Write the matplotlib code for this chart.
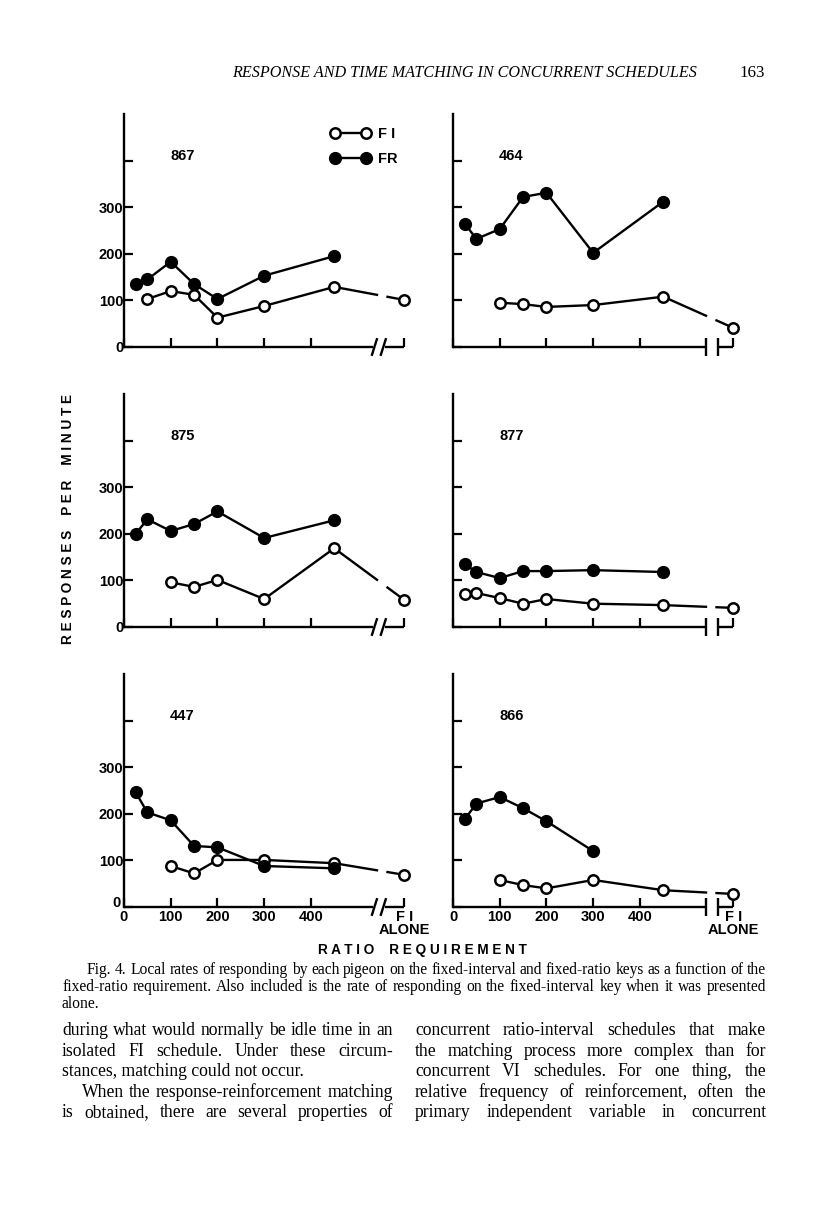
import numpy as np
import matplotlib
matplotlib.use("Agg")
import matplotlib.pyplot as plt
from matplotlib.lines import Line2D
from matplotlib.transforms import ScaledTranslation

# ratio requirements (FR) and the position used for "FI alone"
ratio = [25, 50, 100, 150, 200, 300, 450]
fi_alone_x = 600
nan = np.nan

pigeons = ["867", "464", "875", "877", "447", "866"]

fr_867 = [135, 145, 183, 135, 103, 153, 195]
fi_867 = [nan, 103, 120, 112, 63, 88, 129]
alone_867 = 101

fr_464 = [265, 232, 253, 322, 331, 202, 312]
fi_464 = [nan, nan, 95, 92, 86, 90, 108]
alone_464 = 41

fr_875 = [200, 231, 206, 221, 248, 191, 229]
fi_875 = [nan, nan, 96, 86, 101, 60, 169]
alone_875 = 58

fr_877 = [135, 118, 105, 120, 120, 122, 118]
fi_877 = [71, 73, 62, 50, 60, 50, 47]
alone_877 = 41

fr_447 = [246, 203, 186, 131, 128, 88, 83]
fi_447 = [nan, nan, 88, 72, 101, 101, 94]
alone_447 = 69

fr_866 = [188, 222, 236, 212, 184, 120, nan]
fi_866 = [nan, nan, 58, 47, 40, 58, 36]
alone_866 = 28

fr_all = [fr_867, fr_464, fr_875, fr_877, fr_447, fr_866]
fi_all = [fi_867, fi_464, fi_875, fi_877, fi_447, fi_866]
alone_all = [alone_867, alone_464, alone_875, alone_877, alone_447, alone_866]

x_ticks = [0, 100, 200, 300, 400, 600]
x_ticklabels = ["0", "100", "200", "300", "400", "F I\nALONE"]
y_ticks = [0, 100, 200, 300, 400]
y_ticklabels = ["0", "100", "200", "300", ""]

W, H = 816, 1207
fig = plt.figure(figsize=(W / 100, H / 100), dpi=100)
fig.patch.set_facecolor("white")

SANS = "Liberation Sans"
SERIF = "Liberation Serif"
LAB = 10.5

# panel origins in pixels (y axis x-position, x axis y-position)
col_x = [124, 453]
row_y = [347, 627, 907]
ax_w, ax_h = 285, 233

for i, name in enumerate(pigeons):
    r, c = divmod(i, 2)
    ax = fig.add_axes([col_x[c] / W, 1 - row_y[r] / H, ax_w / W, ax_h / H])
    ax.set_xlim(0, 610)
    ax.set_ylim(0, 500)
    for s in ["top", "right", "bottom"]:
        ax.spines[s].set_visible(False)
    ax.spines["left"].set_linewidth(1.7)

    ax.set_xticks(x_ticks)
    ax.set_yticks(y_ticks)
    ax.tick_params(direction="in", length=6.5, width=1.6, pad=2.5)
    ax.tick_params(axis="y", pad=0.5)
    ax.set_yticklabels(y_ticklabels if c == 0 else [""] * 5,
                       fontfamily=SANS, fontweight="bold", fontsize=LAB)
    if r == 2:
        ax.set_xticklabels(x_ticklabels, fontfamily=SANS, fontweight="bold",
                           fontsize=LAB, linespacing=0.9)
        if c == 0:
            # the two zeros share the corner: nudge the y one up and left
            z = ax.get_yticklabels()[0]
            z.set_transform(z.get_transform()
                            + ScaledTranslation(-2 / 72, 4 / 72, fig.dpi_scale_trans))
    else:
        ax.set_xticklabels([""] * 6)

    # broken x axis
    kw = dict(color="black", lw=1.7, clip_on=False, solid_capstyle="butt")
    if c == 0:
        ax.plot([0, 533], [0, 0], **kw)
        ax.plot([558, 600], [0, 0], **kw)
        for bx in (536, 555):
            ax.plot([bx - 6, bx + 6], [-19, 19], **kw)
    else:
        ax.plot([0, 542], [0, 0], **kw)
        ax.plot([567, 600], [0, 0], **kw)
        for bx in (542, 567):
            ax.plot([bx, bx], [-19, 19], **kw)

    # FI alone connector, broken near the axis break
    last_x = ratio[-1]
    last_y = fi_all[i][-1]
    a = alone_all[i]
    t1, t2 = 0.61, 0.76
    ax.plot([last_x, last_x + t1 * (fi_alone_x - last_x)],
            [last_y, last_y + t1 * (a - last_y)], color="black", lw=1.7, zorder=2)
    ax.plot([last_x + t2 * (fi_alone_x - last_x), fi_alone_x],
            [last_y + t2 * (a - last_y), a], color="black", lw=1.7, zorder=2)

    ax.plot(ratio, fi_all[i], color="black", lw=1.7, marker="o", ms=7.5,
            mfc="white", mec="black", mew=1.8, zorder=3, clip_on=False)
    ax.plot(ratio, fr_all[i], color="black", lw=1.7, marker="o", ms=8.5,
            mfc="black", mec="black", zorder=4, clip_on=False)
    ax.plot([fi_alone_x], [a], marker="o", ms=7.5, mfc="white", mec="black",
            mew=1.8, zorder=3, clip_on=False)

    ax.text(125, 410, name, ha="center", va="center", fontfamily=SANS,
            fontweight="bold", fontsize=LAB)

    if i == 0:
        h_fi = Line2D([], [], color="black", lw=1.7, marker="o", ms=7.5,
                      mfc="white", mec="black", mew=1.8)
        h_fr = Line2D([], [], color="black", lw=1.7, marker="o", ms=8.5,
                      mfc="black", mec="black")
        ax.legend([h_fi, h_fr], ["F I", "FR"], numpoints=2, frameon=False,
                  handlelength=2.7, handletextpad=0.5, labelspacing=0.75,
                  loc="upper left", bbox_to_anchor=(0.68, 1.0),
                  prop=dict(family=SANS, weight="bold", size=LAB))

# axis titles
fig.text(68 / W, 1 - 519 / H, "R E S P O N S E S    P E R    M I N U T E",
         rotation=90, ha="center", va="center", fontfamily=SANS,
         fontweight="bold", fontsize=9.8)
fig.text(422 / W, 1 - 950 / H, "R A T I O    R E Q U I R E M E N T",
         ha="center", va="center", fontfamily=SANS, fontweight="bold", fontsize=9.8)

renderer = fig.canvas.get_renderer()


def fit_size(lines, width, style="normal"):
    # font size at which the widest line's natural width matches the column
    sizes = []
    for line in lines:
        t = fig.text(0, 0, line, fontfamily=SERIF, fontsize=10, fontstyle=style)
        sizes.append(10 * width / t.get_window_extent(renderer).width)
        t.remove()
    return min(sizes)


def justify(line, x0, x1, y, size):
    words = line.split()
    texts = [fig.text(0, 0, w, ha="left", va="baseline", fontfamily=SERIF,
                      fontsize=size) for w in words]
    widths = [t.get_window_extent(renderer).width for t in texts]
    gap = (x1 - x0 - sum(widths)) / max(len(words) - 1, 1)
    x = x0
    for t, w in zip(texts, widths):
        t.set_position((x / W, 1 - y / H))
        x += w + gap


def plain(line, x0, y, size):
    fig.text(x0 / W, 1 - y / H, line, ha="left", va="baseline",
             fontfamily=SERIF, fontsize=size)


# running head
head = "RESPONSE AND TIME MATCHING IN CONCURRENT SCHEDULES"
hs = fit_size([head], 697 - 232, "italic")
fig.text(697 / W, 1 - 77 / H, head, ha="right", va="baseline",
         fontfamily=SERIF, fontstyle="italic", fontsize=hs)
fig.text(765 / W, 1 - 77 / H, "163", ha="right", va="baseline",
         fontfamily=SERIF, fontsize=hs + 0.5)

cap_lines = ["Fig. 4. Local rates of responding by each pigeon on the fixed-interval and "
             "fixed-ratio keys as a function of the",
             "fixed-ratio requirement. Also included is the rate of responding on the "
             "fixed-interval key when it was presented"]
cap = fit_size(cap_lines, 766 - 62) * 0.98
justify(cap_lines[0], 87, 766, 974, cap)
justify(cap_lines[1], 62, 766, 991, cap)
plain("alone.", 62, 1008, cap)

left_lines = ["during what would normally be idle time in an",
              "isolated FI schedule. Under these circum-",
              "stances, matching could not occur.",
              "When the response-reinforcement matching",
              "is obtained, there are several properties of"]
right_lines = ["concurrent ratio-interval schedules that make",
               "the matching process more complex than for",
               "concurrent VI schedules. For one thing, the",
               "relative frequency of reinforcement, often the",
               "primary independent variable in concurrent"]
body = fit_size(left_lines[:2] + left_lines[4:] + right_lines, 393 - 62) * 0.99
ys = [1035, 1056, 1076, 1097, 1117]
justify(left_lines[0], 62, 393, ys[0], body)
justify(left_lines[1], 62, 393, ys[1], body)
plain(left_lines[2], 62, ys[2], body)
justify(left_lines[3], 82, 393, ys[3], body)
justify(left_lines[4], 62, 393, ys[4], body)
for line, y in zip(right_lines, ys):
    justify(line, 415, 766, y, body)

fig.savefig("out.png", dpi=100, facecolor="white")
